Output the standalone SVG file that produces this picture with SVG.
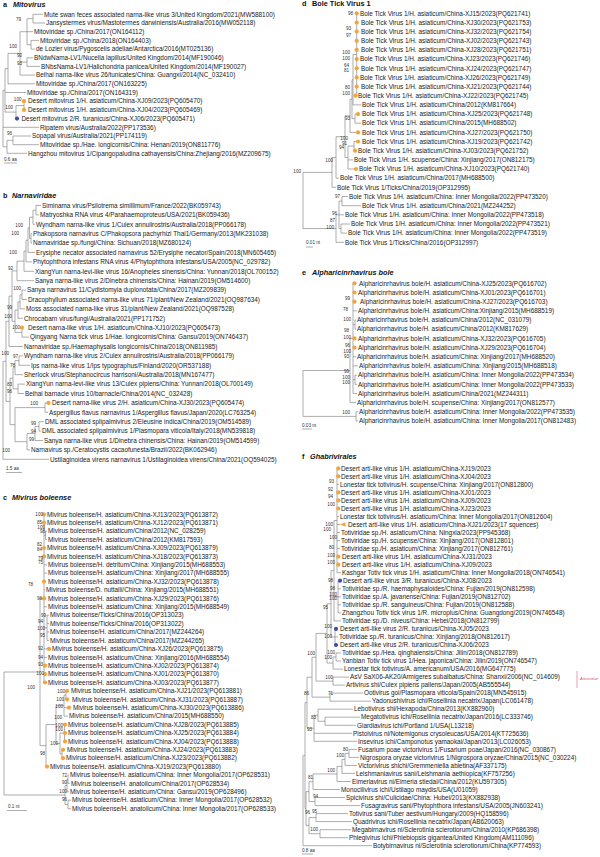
<svg xmlns="http://www.w3.org/2000/svg" width="600" height="857" viewBox="0 0 600 857">
<style>
text{font-family:"Liberation Sans",Arial,sans-serif}
.t{font-size:6.4px;fill:#1a1a1a}
.bs{font-size:4.6px;fill:#333;text-anchor:end}
.h{font-size:7.3px;font-weight:bold;font-style:italic;fill:#111}
.hn{font-size:7.3px;font-weight:bold;fill:#111}
.l{font-size:7.3px;font-weight:bold;fill:#111}
.sc{font-size:4.6px;fill:#333}
.br{fill:none;stroke:#777;stroke-width:0.6}
.o{fill:#F3A43B}
.b{fill:#3D4FA8}
</style>
<rect width="600" height="857" fill="#fff"/>
<g id="connectors">
<path class="br" d="M3 90.35V146.8M3 90.35H5M5 68.6V112.1M5 68.6H8M8 53.4V83.8M8 53.4H20M20 31.7V75.1M20 31.7H27M27 18.65V44.75M27 18.65H33M33 14.3V23M33 14.3H43M33 23H45M27 31.7H33M27 44.75H31M31 40.4V49.1M31 40.4H39M31 49.1H35M20 62.1H27M27 57.8V66.4M27 57.8H33M27 66.4H40M20 75.1H35M8 83.8H35M5 92.5H26M5 112.1H16M16 105.55V118.6M16 105.55H24M24 101.2V109.9M16 118.6H17M3 127.3H39M3 146.8H7M7 140.35V153.3M7 140.35H13M13 136V144.7M13 136H31M13 144.7H39M7 153.3H27"/>
<path class="br" d="M3 361.35V459.3M3 361.35H6M3 459.3H49M6 321.3V401.4M6 321.3H9M6 401.4H10M9 296.1V346.5M9 296.1H12M9 346.5H23M12 270.9V321.25M12 270.9H17M12 321.25H15M17 261.15V280.7M17 261.15H24M17 280.7H34M24 251V271.3M24 251H26M24 271.3H34M26 240.15V261.9M26 240.15H28M26 261.9H32M28 227.8V252.5M28 227.8H29.5M28 252.5H35M29.5 217.25V238.4M29.5 217.25H33M29.5 238.4H31M33 210.2V224.3M33 210.2H36M33 224.3H35M36 205.5V214.9M36 205.5H41M36 214.9H39M31 233.7V243.1M31 233.7H32M31 243.1H32M15 310.1V332.4M15 310.1H18M15 332.4H22M18 301.85V318.3M18 301.85H20M18 318.3H23M20 294.8V308.9M20 294.8H22M20 308.9H25M22 290.1V299.5M22 290.1H26M22 299.5H27M22 327.7V337.1M22 337.1H29M10 378.2V424.65M10 378.2H13M10 424.65H15M13 367.65V388.8M13 367.65H15M13 388.8H18M15 360.6V374.7M15 360.6H19M15 374.7H23M19 355.9V365.3M19 355.9H23M19 365.3H30M18 384.1V393.5M18 384.1H25M18 393.5H24M15 407.6V441.7M15 407.6H45M15 441.7H27M45 402.9V412.3M45 402.9H48.5M45 412.3H48M27 433.45V449.9M27 433.45H35M27 449.9H30M35 426.4V440.5M35 426.4H39M35 440.5H43M39 421.7V431.1M39 421.7H44M39 431.1H41"/>
<path class="br" d="M4 672V795M4 672H40M4 795H65M40 598.4V745.6M40 598.4H44M40 745.6H46M44 514.3V682.5M44 535.3H45.5M45.5 531.1V539.5M45.5 531.1H47M45.5 539.5H47M44 564.8H47M44 573.2H47M44 590H45M44 606.8H47M44 627.85H47M47 615.2V640.5M47 615.2H49M47 623.6H49M47 632H49M47 640.5H49M44 648.9H49M44 657.3H47M44 665.7H45M44 674.1H45M44 682.5H45M46 724.55V766.6M46 724.55H56M46 766.6H47M56 705.6V743.5M56 705.6H64M56 743.5H60M64 695.1V716.1M64 695.1H66M64 707.7H69M64 716.1H68M66 690.9V699.3M66 690.9H67M66 699.3H67M60 733V754M60 733H64.5M60 754H62M64.5 724.6V741.4M62 749.8V758.2M62 749.8H63M62 758.2H63M65 785.5V804.45M65 785.5H67M65 804.45H68M67 779.2V791.8M67 779.2H68M67 791.8H69M68 775V783.4M68 775H69M68 783.4H70M68 800.2V808.7M68 800.2H71M68 808.7H71"/>
<path class="br" d="M303 172.4V228.55M303 172.4H332M303 228.55H336M332 157.45V187.3M332 157.45H336M332 187.3H336M336 136.7V178.2M336 136.7H345M336 178.2H339M345 115.8V157.55M345 115.8H350M345 157.55H348M350 99.2V132.4M350 99.2H352M350 132.4H358M352 79.7V118.65M352 79.7H353M352 118.65H355M353 54.5V104.9M353 54.5H356.7M353 104.9H361M356.7 13.3V95.7M355 114.1V123.2M355 114.1H358M355 123.2H361M348 146.1V169M348 146.1H354M348 159.9H353M348 169H356M354 141.5V150.7M354 141.5H358M354 150.7H355M336 214.8V242.3M336 214.8H339M336 242.3H344M339 201.1V228.55M339 201.1H342M339 214.8H344M339 228.55H341M342 196.5V205.7M342 196.5H348M342 205.7H361M341 224V233.1M341 224H350M341 233.1H347"/>
<path class="br" d="M303 370.5V416.4M303 370.5H350M303 416.4H356M350 338.4V402.6M350 338.4H353M350 402.6H356M353 283.3V393.5M353 310.8H357M353 324.6H355M355 320V329.2M355 320H356M355 329.2H356M353 356.7H356M353 365.9H358M353 379.7H355M355 375.1V384.3M355 375.1H357M355 384.3H357M353 393.5H357M356 411.8V421M356 411.8H358M356 421H358"/>
<path class="br" d="M303 755.65V845.7M303 755.65H305M303 845.7H372M305 702.7V808.6M305 702.7H307M305 808.6H306M307 677.2V728.25M307 677.2H312M307 728.25H314M312 657.25V697.15M312 657.25H316M312 697.15H330M316 633.4V681.1M316 633.4H327M316 681.1H333M327 603.8V663.05M327 603.8H331M327 663.05H333M331 570.7V636.95M331 570.7H334M331 636.95H335M334 520.5V620.9M334 520.5H337M334 596.75H338M334 620.9H341M337 468.3V572.7M337 484.4H339M337 516.5H339M337 524.5H340M337 532.5H340M337 540.6H340M337 548.6H340M337 572.7H341M338 580.7V612.8M338 580.7H340M338 588.8H341M338 596.8H341M338 604.8H341M338 612.8H341M335 628.9V645M335 628.9H336M335 636.9H338M335 645H336M333 657V669.1M333 657H336M333 669.1H343M336 653V661M336 653H341M336 661H341M333 677.1V685.1M333 677.1H349M333 685.1H345M330 693.1V701.2M330 693.1H363M330 701.2H371M314 715.2V741.3M314 715.2H318M314 733.3H352M314 741.3H357M318 709.2V721.25M318 709.2H353M318 721.25H325M325 717.2V725.3M325 717.2H360M325 725.3H356M306 791.6V825.65M306 791.6H309M306 825.65H309M309 781.7V801.55M309 781.7H313M309 801.55H315M313 773.95V789.5M313 773.95H337M313 789.5H340M337 766.4V781.5M337 766.4H342M337 781.5H351M342 759.4V773.4M342 759.4H345M342 773.4H355M345 753.4V765.4M345 753.4H349M345 765.4H357M349 749.4V757.4M349 749.4H357M349 757.4H359M315 797.5V805.6M315 797.5H345M315 805.6H360M309 817.6V833.7M309 817.6H316M309 833.7H320M316 813.6V821.6M316 813.6H348M316 821.6H352M320 829.7V837.7M320 829.7H351M320 837.7H348"/>
<path class="br" d="M4 163H17M6 472.5H22M7 810.5H27M306 247H313M302 429H312M302 854H313"/>
<path d="M577 671V688" stroke="#E2728F" stroke-width="0.7" fill="none"/>
</g>
<g id="titles">
<text class="l" x="3" y="6.8">a</text><text class="h" x="13" y="6.8">Mitovirus</text>
<text class="l" x="3" y="197.6">b</text><text class="h" x="12" y="197.6">Narnaviridae</text>
<text class="l" x="3" y="500.3">c</text><text class="h" x="12" y="500.3">Mivirus boleense</text>
<text class="l" x="302" y="6">d</text><text class="hn" x="312" y="6">Bole Tick Virus 1</text>
<text class="l" x="302" y="274.9">e</text><text class="h" x="312" y="274.9">Alpharicinrhavirus bole</text>
<text class="l" x="302" y="458.6">f</text><text class="h" x="310" y="458.6">Ghabrivirales</text>
<text class="sc" x="4" y="160.5">0.6 aa</text>
<text class="sc" x="6" y="469.5">1.5 aa</text>
<text class="sc" x="8" y="807.5">0.1 nt</text>
<text class="sc" x="306" y="244">0.01 nt</text>
<text class="sc" x="302" y="426.5">0.03 nt</text>
<text class="sc" x="302" y="851.5">0.8 aa</text>
<text x="580" y="679.5" style="font-size:4.1px;font-style:italic;fill:#D9507A">Artiviridae</text>
</g>
<g id="panel-a">
<g id="a0"><text class="t" x="44" y="16.5">Mute swan feces associated narna-like virus 3/United Kingdom/2021(MW588100)</text></g>
<g id="a1"><text class="t" x="46" y="25.2">Jansystermes virus/Mastotermes darwiniensis/Australia/2016(MW052118)</text></g>
<g id="a2"><text class="t" x="34" y="33.9">Mitoviridae sp./China/2017(ON164112)</text></g>
<g id="a3"><text class="t" x="40" y="42.6">Mitoviridae sp./China/2018(ON164403)</text></g>
<g id="a4"><text class="t" x="36" y="51.3">de Lozier virus/Pygoscelis adeliae/Antarctica/2016(MT025136)</text></g>
<g id="a5"><text class="t" x="34" y="60">BNdwNama-LV1/Nucella lapillus/United Kingdom/2014(MF190046)</text></g>
<g id="a6"><text class="t" x="41" y="68.6">BNbsNama-LV1/Halichondria panicea/United Kingdom/2014(MF190027)</text></g>
<g id="a7"><text class="t" x="36" y="77.3">Beihai narna-like virus 26/tunicates/China: Guangxi/2014(NC_032410)</text></g>
<g id="a8"><text class="t" x="36" y="86">Mitoviridae sp./China/2017(ON163225)</text></g>
<g id="a9"><text class="t" x="27" y="94.7">Mitoviridae sp./China/2017(ON164319)</text></g>
<g id="a10"><circle class="o" cx="24" cy="101.2" r="2.1"/><text class="t" x="28" y="103.4">Desert mitovirus 1/H. asiaticum/China-XJ09/2023(PQ605470)</text></g>
<g id="a11"><circle class="o" cx="24" cy="109.9" r="2.1"/><text class="t" x="28" y="112.1">Desert mitovirus 1/H. asiaticum/China-XJ04/2023(PQ605469)</text></g>
<g id="a12"><circle class="b" cx="17" cy="118.6" r="2.1"/><text class="t" x="21.5" y="120.8">Desert mitovirus 2/R. turanicus/China-XJ06/2023(PQ605471)</text></g>
<g id="a13"><text class="t" x="40" y="129.5">Ripatem virus/Australia/2022(PP173536)</text></g>
<g id="a14"><text class="t" x="32" y="138.2">Sopapal virus/Australia/2021(PP174119)</text></g>
<g id="a15"><text class="t" x="40" y="146.9">Mitoviridae sp./Hae. longicornis/China: Henan/2019(ON811776)</text></g>
<g id="a16"><text class="t" x="28" y="155.5">Hangzhou mitovirus 1/Cipangopaludina cathayensis/China:Zhejiang/2016(MZ209675)</text></g>
</g>
<g id="panel-b">
<g id="b0"><text class="t" x="42" y="207.7">Siminama virus/Psilotrema simillimum/France/2022(BK059743)</text></g>
<g id="b1"><text class="t" x="40" y="217.1">Matryoshka RNA virus 4/Parahaemoproteus/USA/2021(BK059436)</text></g>
<g id="b2"><text class="t" x="36" y="226.5">Wyndham narna-like virus 1/Culex annulirostris/Australia/2018(PP066178)</text></g>
<g id="b3"><text class="t" x="33" y="235.9">Phakopsora narnavirus C/Phakopsora pachyrhizi Thai1/Germany/2013(MK231038)</text></g>
<g id="b4"><text class="t" x="33" y="245.3">Narnaviridae sp./fungi/China: Sichuan/2018(MZ680124)</text></g>
<g id="b5"><text class="t" x="36" y="254.7">Erysiphe necator associated narnavirus 52/Erysiphe necator/Spain/2018(MN605465)</text></g>
<g id="b6"><text class="t" x="33" y="264.1">Phytophthora infestans RNA virus 4/Phytophthora infestans/USA/2005(NC_029782)</text></g>
<g id="b7"><text class="t" x="35" y="273.5">XiangYun narna-levi-like virus 16/Anopheles sinensis/China: Yunnan/2018(OL700152)</text></g>
<g id="b8"><text class="t" x="35" y="282.9">Sanya narna-like virus 2/Dinebra chinensis/China: Hainan/2019(OM514600)</text></g>
<g id="b9"><text class="t" x="27" y="292.3">Sanya narnavirus 11/Cydistomyia duplonotata/China/2017(MZ209839)</text></g>
<g id="b10"><text class="t" x="28" y="301.7">Dracophyllum associated narna-like virus 71/plant/New Zealand/2021(OQ987634)</text></g>
<g id="b11"><text class="t" x="26" y="311.1">Moss associated narna-like virus 31/plant/New Zealand/2021(OQ987528)</text></g>
<g id="b12"><text class="t" x="24" y="320.5">Chrocabarn virus/fungi/Australia/2021(PP171752)</text></g>
<g id="b13"><circle class="o" cx="22" cy="327.7" r="2.1"/><text class="t" x="28" y="329.9">Desert narna-like virus 1/H. asiaticum/China-XJ10/2023(PQ605473)</text></g>
<g id="b14"><text class="t" x="30" y="339.3">Qingyang Narna tick virus 1/Hae. longicornis/China: Gansu/2019(ON746437)</text></g>
<g id="b15"><text class="t" x="24" y="348.7">Narnaviridae sp./Haemaphysalis longicornis/China/2018(ON811985)</text></g>
<g id="b16"><text class="t" x="24" y="358.1">Wyndham narna-like virus 2/Culex annulirostris/Australia/2018(PP066179)</text></g>
<g id="b17"><text class="t" x="31" y="367.5">Ips narna-like virus 1/Ips typographus/Finland/2020(OR537188)</text></g>
<g id="b18"><text class="t" x="24" y="376.9">Sherlock virus/Stephanocircus harrisoni/Australia/2018(MN167477)</text></g>
<g id="b19"><text class="t" x="26" y="386.3">XiangYun narna-levi-like virus 13/Culex pipiens/China: Yunnan/2018(OL700149)</text></g>
<g id="b20"><text class="t" x="25" y="395.7">Beihai barnacle virus 10/barnacle/China/2014(NC_032428)</text></g>
<g id="b21"><circle class="o" cx="48.5" cy="402.9" r="2.1"/><text class="t" x="52" y="405.1">Desert narna-like virus 2/H. asiaticum/China-XJ30/2023(PQ605474)</text></g>
<g id="b22"><text class="t" x="49" y="414.5">Aspergillus flavus narnavirus 1/Aspergillus flavus/Japan/2020(LC763254)</text></g>
<g id="b23"><text class="t" x="45" y="423.9">DML associated splipalmivirus 2/Eleusine indica/China/2019(OM514589)</text></g>
<g id="b24"><text class="t" x="42" y="433.3">DML associated splipalmivirus 1/Plasmopara viticola/Italy/2018(MN539818)</text></g>
<g id="b25"><text class="t" x="44" y="442.7">Sanya narna-like virus 1/Dinebra chinensis/China: Hainan/2019(OM514599)</text></g>
<g id="b26"><text class="t" x="31" y="452.1">Narnavirus sp./Ceratocystis cacaofunesta/Brazil/2022(BK062946)</text></g>
<g id="b27"><text class="t" x="50" y="461.5">Ustilaginoidea virens narnavirus 1/Ustilaginoidea virens/China/2021(OQ594025)</text></g>
</g>
<g id="panel-c">
<g id="c0"><circle class="o" cx="44" cy="514.3" r="2.1"/><text class="t" x="47" y="516.5">Mivirus boleense/H. asiaticum/China-XJ13/2023(PQ613872)</text></g>
<g id="c1"><circle class="o" cx="44" cy="522.7" r="2.1"/><text class="t" x="47" y="524.9">Mivirus boleense/H. asiaticum/China-XJ12/2023(PQ613871)</text></g>
<g id="c2"><text class="t" x="48" y="533.3">Mivirus boleense/H. asiaticum/China/2012(NC_028259)</text></g>
<g id="c3"><text class="t" x="48" y="541.7">Mivirus boleense/H. asiaticum/China/2012(KM817593)</text></g>
<g id="c4"><circle class="o" cx="44" cy="548" r="2.1"/><text class="t" x="47" y="550.2">Mivirus boleense/H. asiaticum/China-XJ09/2023(PQ613879)</text></g>
<g id="c5"><circle class="o" cx="44" cy="556.4" r="2.1"/><text class="t" x="47" y="558.6">Mivirus boleense/H. asiaticum/China-XJ18/2023(PQ613873)</text></g>
<g id="c6"><text class="t" x="48" y="567">Mivirus boleense/H. detritum/China: Xinjiang/2015(MH688553)</text></g>
<g id="c7"><text class="t" x="48" y="575.4">Mivirus boleense/H. asiaticum/China: Xinjiang/2017(MH688555)</text></g>
<g id="c8"><circle class="o" cx="44" cy="581.6" r="2.1"/><text class="t" x="48" y="583.8">Mivirus boleense/H. asiaticum/China-XJ32/2023(PQ613878)</text></g>
<g id="c9"><text class="t" x="46" y="592.2">Mivirus boleense/D. nuttalli/China: Xinjiang/2015(MH688551)</text></g>
<g id="c10"><circle class="o" cx="44" cy="598.4" r="2.1"/><text class="t" x="48" y="600.6">Mivirus boleense/H. asiaticum/China-XJ29/2023(PQ613876)</text></g>
<g id="c11"><text class="t" x="48" y="609">Mivirus boleense/H. asiaticum/China: Xinjiang/2015(MH688549)</text></g>
<g id="c12"><text class="t" x="50" y="617.4">Mivirus boleense/Ticks/China/2016(OP313023)</text></g>
<g id="c13"><text class="t" x="50" y="625.8">Mivirus boleense/Ticks/China/2016(OP313022)</text></g>
<g id="c14"><text class="t" x="50" y="634.2">Mivirus boleense/H. asiaticum/China/2017(MZ244264)</text></g>
<g id="c15"><text class="t" x="50" y="642.7">Mivirus boleense/H. asiaticum/China/2017(MZ244265)</text></g>
<g id="c16"><circle class="o" cx="49" cy="648.9" r="2.1"/><text class="t" x="52" y="651.1">Mivirus boleense/H. asiaticum/China-XJ26/2023(PQ613875)</text></g>
<g id="c17"><text class="t" x="48" y="659.5">Mivirus boleense/H. asiaticum/China: Xinjiang/2016(MH688554)</text></g>
<g id="c18"><circle class="o" cx="45" cy="665.7" r="2.1"/><text class="t" x="48" y="667.9">Mivirus boleense/H. asiaticum/China-XJ02/2023(PQ613874)</text></g>
<g id="c19"><circle class="o" cx="45" cy="674.1" r="2.1"/><text class="t" x="48" y="676.3">Mivirus boleense/H. asiaticum/China-XJ01/2023(PQ613870)</text></g>
<g id="c20"><circle class="o" cx="45" cy="682.5" r="2.1"/><text class="t" x="48" y="684.7">Mivirus boleense/H. asiaticum/China-XJ03/2023(PQ613877)</text></g>
<g id="c21"><circle class="o" cx="67" cy="690.9" r="2.1"/><text class="t" x="71" y="693.1">Mivirus boleense/H. asiaticum/China-XJ21/2023(PQ613881)</text></g>
<g id="c22"><circle class="o" cx="67" cy="699.3" r="2.1"/><text class="t" x="72" y="701.5">Mivirus boleense/H. asiaticum/China-XJ31/2023(PQ613887)</text></g>
<g id="c23"><circle class="o" cx="69" cy="707.7" r="2.1"/><text class="t" x="73" y="709.9">Mivirus boleense/H. asiaticum/China-XJ30/2023(PQ613886)</text></g>
<g id="c24"><text class="t" x="69" y="718.3">Mivirus boleense/H. asiaticum/China/2015(MH688550)</text></g>
<g id="c25"><circle class="o" cx="65" cy="724.6" r="2.1"/><text class="t" x="68" y="726.8">Mivirus boleense/H. asiaticum/China-XJ28/2023(PQ613885)</text></g>
<g id="c26"><circle class="o" cx="65" cy="733" r="2.1"/><text class="t" x="68" y="735.2">Mivirus boleense/H. asiaticum/China-XJ25/2023(PQ613884)</text></g>
<g id="c27"><circle class="o" cx="65" cy="741.4" r="2.1"/><text class="t" x="68" y="743.6">Mivirus boleense/H. asiaticum/China-XJ04/2023(PQ613888)</text></g>
<g id="c28"><circle class="o" cx="63" cy="749.8" r="2.1"/><text class="t" x="67" y="752">Mivirus boleense/H. asiaticum/China-XJ24/2023(PQ613883)</text></g>
<g id="c29"><circle class="o" cx="63" cy="758.2" r="2.1"/><text class="t" x="66" y="760.4">Mivirus boleense/H. asiaticum/China-XJ23/2023(PQ613882)</text></g>
<g id="c30"><circle class="o" cx="47" cy="766.6" r="2.1"/><text class="t" x="50" y="768.8">Mivirus boleense/H. asiaticum/China-XJ19/2023(PQ613880)</text></g>
<g id="c31"><text class="t" x="70" y="777.2">Mivirus boleense/H. asiaticum/China: Inner Mongolia/2017(OP628531)</text></g>
<g id="c32"><text class="t" x="71" y="785.6">Mivirus boleense/H. anatolicum/China/2017(OP628534)</text></g>
<g id="c33"><text class="t" x="70" y="794">Mivirus boleense/H. asiaticum/China: Gansu/2019(OP628496)</text></g>
<g id="c34"><text class="t" x="72" y="802.4">Mivirus boleense/H. asiaticum/China: Inner Mongolia/2017(OP628532)</text></g>
<g id="c35"><text class="t" x="72" y="810.9">Mivirus boleense/H. anatolicum/China: Inner Mongolia/2017(OP628533)</text></g>
</g>
<g id="panel-d">
<g id="d0"><circle class="o" cx="356.7" cy="13.3" r="2.1"/><text class="t" x="360" y="15.5">Bole Tick Virus 1/H. asiaticum/China-XJ15/2023(PQ621741)</text></g>
<g id="d1"><circle class="o" cx="356.7" cy="22.5" r="2.1"/><text class="t" x="361" y="24.7">Bole Tick Virus 1/H. asiaticum/China-XJ30/2023(PQ621753)</text></g>
<g id="d2"><circle class="o" cx="356.7" cy="31.6" r="2.1"/><text class="t" x="361" y="33.8">Bole Tick Virus 1/H. asiaticum/China-XJ32/2023(PQ621754)</text></g>
<g id="d3"><circle class="o" cx="356.7" cy="40.8" r="2.1"/><text class="t" x="361" y="43">Bole Tick Virus 1/H. asiaticum/China-XJ02/2023(PQ621743)</text></g>
<g id="d4"><circle class="o" cx="356.7" cy="49.9" r="2.1"/><text class="t" x="361" y="52.1">Bole Tick Virus 1/H. asiaticum/China-XJ28/2023(PQ621751)</text></g>
<g id="d5"><circle class="o" cx="356.7" cy="59.1" r="2.1"/><text class="t" x="360" y="61.3">Bole Tick Virus 1/H. asiaticum/China-XJ23/2023(PQ621746)</text></g>
<g id="d6"><circle class="o" cx="356.7" cy="68.3" r="2.1"/><text class="t" x="361" y="70.5">Bole Tick Virus 1/H. asiaticum/China-XJ24/2023(PQ621747)</text></g>
<g id="d7"><circle class="o" cx="356.7" cy="77.4" r="2.1"/><text class="t" x="360" y="79.6">Bole Tick Virus 1/H. asiaticum/China-XJ26/2023(PQ621749)</text></g>
<g id="d8"><circle class="o" cx="356.7" cy="86.6" r="2.1"/><text class="t" x="361" y="88.8">Bole Tick Virus 1/H. asiaticum/China-XJ21/2023(PQ621744)</text></g>
<g id="d9"><circle class="o" cx="355.5" cy="95.7" r="2.1"/><text class="t" x="358" y="97.9">Bole Tick Virus 1/H. asiaticum/China-XJ22/2023(PQ621745)</text></g>
<g id="d10"><text class="t" x="362" y="107.1">Bole Tick Virus 1/H. asiaticum/China/2012(KM817664)</text></g>
<g id="d11"><circle class="o" cx="358" cy="114.1" r="2.1"/><text class="t" x="362" y="116.3">Bole Tick Virus 1/H. asiaticum/China-XJ25/2023(PQ621748)</text></g>
<g id="d12"><text class="t" x="362" y="125.4">Bole Tick Virus 1/H. asiaticum/China/2015(MH688502)</text></g>
<g id="d13"><circle class="o" cx="358" cy="132.4" r="2.1"/><text class="t" x="362" y="134.6">Bole Tick Virus 1/H. asiaticum/China-XJ27/2023(PQ621750)</text></g>
<g id="d14"><circle class="o" cx="358" cy="141.5" r="2.1"/><text class="t" x="362" y="143.7">Bole Tick Virus 1/H. asiaticum/China-XJ19/2023(PQ621742)</text></g>
<g id="d15"><circle class="o" cx="355" cy="150.7" r="2.1"/><text class="t" x="358" y="152.9">Bole Tick Virus 1/H. asiaticum/China-XJ03/2023(PQ621752)</text></g>
<g id="d16"><text class="t" x="354" y="162.1">Bole Tick Virus 1/H. scupense/China: Xinjiang/2017(ON812175)</text></g>
<g id="d17"><circle class="o" cx="356" cy="169" r="2.1"/><text class="t" x="359" y="171.2">Bole Tick Virus 1/H. asiaticum/China-XJ10/2023(PQ621740)</text></g>
<g id="d18"><text class="t" x="340" y="180.4">Bole Tick Virus 1/H. asiaticum/China/2017(MH688500)</text></g>
<g id="d19"><text class="t" x="337" y="189.5">Bole Tick Virus 1/Ticks/China/2019(OP312995)</text></g>
<g id="d20"><text class="t" x="349" y="198.7">Bole Tick Virus 1/H. asiaticum/China: Inner Mongolia/2022(PP473520)</text></g>
<g id="d21"><text class="t" x="362" y="207.9">Bole Tick Virus 1/H. asiaticum/China/2021(MZ244252)</text></g>
<g id="d22"><text class="t" x="345" y="217">Bole Tick Virus 1/H. asiaticum/China: Inner Mongolia/2022(PP473518)</text></g>
<g id="d23"><text class="t" x="351" y="226.2">Bole Tick Virus 1/H. asiaticum/China: Inner Mongolia/2022(PP473521)</text></g>
<g id="d24"><text class="t" x="348" y="235.3">Bole Tick Virus 1/H. asiaticum/China: Inner Mongolia/2022(PP473519)</text></g>
<g id="d25"><text class="t" x="345" y="244.5">Bole Tick Virus 1/Ticks/China/2016(OP312997)</text></g>
</g>
<g id="panel-e">
<g id="e0"><circle class="o" cx="354.5" cy="283.3" r="2.1"/><text class="t" x="359" y="285.5">Alpharicinrhavirus bole/H. asiaticum/China-XJ25/2023(PQ616702)</text></g>
<g id="e1"><circle class="o" cx="354.5" cy="292.5" r="2.1"/><text class="t" x="358" y="294.7">Alpharicinrhavirus bole/H. asiaticum/China-XJ01/2023(PQ616701)</text></g>
<g id="e2"><circle class="o" cx="354.5" cy="301.7" r="2.1"/><text class="t" x="360" y="303.9">Alpharicinrhavirus bole/H. asiaticum/China-XJ27/2023(PQ616703)</text></g>
<g id="e3"><text class="t" x="358" y="313">Alpharicinrhavirus bole/H. asiaticum/China:Xinjiang/2015(MH688519)</text></g>
<g id="e4"><text class="t" x="357" y="322.2">Alpharicinrhavirus bole/H. asiaticum/China/2012(NC_031079)</text></g>
<g id="e5"><text class="t" x="357" y="331.4">Alpharicinrhavirus bole/H. asiaticum/China/2012(KM817629)</text></g>
<g id="e6"><circle class="o" cx="354.5" cy="338.4" r="2.1"/><text class="t" x="358" y="340.6">Alpharicinrhavirus bole/H. asiaticum/China-XJ32/2023(PQ616705)</text></g>
<g id="e7"><circle class="o" cx="354.5" cy="347.6" r="2.1"/><text class="t" x="358" y="349.8">Alpharicinrhavirus bole/H. asiaticum/China-XJ29/2023(PQ616704)</text></g>
<g id="e8"><text class="t" x="357" y="358.9">Alpharicinrhavirus bole/H. asiaticum/China: Xinjiang/2017(MH688520)</text></g>
<g id="e9"><text class="t" x="359" y="368.1">Alpharicinrhavirus bole/H. asiaticum/China: Xinjiang/2015(MH688518)</text></g>
<g id="e10"><text class="t" x="358" y="377.3">Alpharicinrhavirus bole/H. asiaticum/China: Inner Mongolia/2022(PP473534)</text></g>
<g id="e11"><text class="t" x="358" y="386.5">Alpharicinrhavirus bole/H. asiaticum/China: Inner Mongolia/2022(PP473533)</text></g>
<g id="e12"><text class="t" x="358" y="395.7">Alpharicinrhavirus bole/H. asiaticum/China/2021(MZ244311)</text></g>
<g id="e13"><text class="t" x="357" y="404.8">Alpharicinrhavirus bole/H. scupense/China: Xinjiang/2017(ON812577)</text></g>
<g id="e14"><text class="t" x="359" y="414">Alpharicinrhavirus bole/H. asiaticum/China: Inner Mongolia/2022(PP473535)</text></g>
<g id="e15"><text class="t" x="359" y="423.2">Alpharicinrhavirus bole/H. asiaticum/China: Inner Mongolia/2017(ON812483)</text></g>
</g>
<g id="panel-f">
<g id="f0"><circle class="o" cx="338.3" cy="468.3" r="2.1"/><text class="t" x="341" y="470.5">Desert arti-like virus 1/H. asiaticum/China-XJ19/2023</text></g>
<g id="f1"><circle class="o" cx="338.3" cy="476.3" r="2.1"/><text class="t" x="341" y="478.5">Desert arti-like virus 1/H. asiaticum/China-XJ04/2023</text></g>
<g id="f2"><text class="t" x="340" y="486.6">Lonestar tick totivirus/H. scupense/China: Xinjiang/2017(ON812800)</text></g>
<g id="f3"><circle class="o" cx="338.3" cy="492.4" r="2.1"/><text class="t" x="341" y="494.6">Desert arti-like virus 1/H. asiaticum/China-XJ01/2023</text></g>
<g id="f4"><circle class="o" cx="338.3" cy="500.4" r="2.1"/><text class="t" x="341" y="502.6">Desert arti-like virus 1/H. asiaticum/China-XJ09/2023</text></g>
<g id="f5"><circle class="o" cx="338.3" cy="508.5" r="2.1"/><text class="t" x="341" y="510.7">Desert arti-like virus 1/H. asiaticum/China-XJ23/2023</text></g>
<g id="f6"><text class="t" x="340" y="518.7">Lonestar tick totivirus/H. asiaticum/China: Inner Mongolia/2017(ON812604)</text></g>
<g id="f7"><polygon class="o" points="340,524.5 345.5,522.2 345.5,526.8"/><text class="t" x="348" y="526.7">Desert arti-like virus 1/H. asiaticum/China-XJ21/2023(17 squences)</text></g>
<g id="f8"><text class="t" x="341" y="534.7">Totiviridae sp./H. asiaticum/China: Ningxia/2023(PP945368)</text></g>
<g id="f9"><text class="t" x="341" y="542.8">Totiviridae sp./H. scupense/China: Xinjiang/2017(ON812801)</text></g>
<g id="f10"><text class="t" x="341" y="550.8">Totiviridae sp./H. asiaticum/China: Xinjiang/2017(ON812761)</text></g>
<g id="f11"><circle class="o" cx="338.3" cy="556.6" r="2.1"/><text class="t" x="342" y="558.8">Desert arti-like virus 1/H. asiaticum/China-XJ31/2023</text></g>
<g id="f12"><circle class="o" cx="338.3" cy="564.7" r="2.1"/><text class="t" x="342" y="566.9">Desert arti-like virus 1/H. asiaticum/China-XJ09/2023</text></g>
<g id="f13"><text class="t" x="342" y="574.9">Kashgar Totiv tick virus 1/H. asiaticum/China: Inner Mongolia/2018(ON746541)</text></g>
<g id="f14"><circle class="b" cx="340" cy="580.7" r="2.1"/><text class="t" x="343" y="582.9">Desert arti-like virus 3/R. turanicus/China-XJ08/2023</text></g>
<g id="f15"><text class="t" x="342" y="591">Totiviridae sp./R. haemaphysaloides/China: Fujian/2019(ON812598)</text></g>
<g id="f16"><text class="t" x="342" y="599">Totiviridae sp./A. javanense/China: Fujian/2019(ON812702)</text></g>
<g id="f17"><text class="t" x="342" y="607">Totiviridae sp./R. sanguineus/China: Fujian/2019(ON812588)</text></g>
<g id="f18"><text class="t" x="342" y="615">Zhangzhou Totiv tick virus 1/R. microplus/China: Guangdong/2019(ON746548)</text></g>
<g id="f19"><text class="t" x="342" y="623.1">Totiviridae sp./D. niveus/China: Hebei/2018(ON812799)</text></g>
<g id="f20"><circle class="b" cx="336" cy="628.9" r="2.1"/><text class="t" x="340" y="631.1">Desert arti-like virus 2/R. turanicus/China-XJ05/2023</text></g>
<g id="f21"><text class="t" x="339" y="639.1">Totiviridae sp./R. turanicus/China: Xinjiang/2018(ON812617)</text></g>
<g id="f22"><circle class="b" cx="336" cy="645" r="2.1"/><text class="t" x="340" y="647.2">Desert arti-like virus 2/R. turanicus/China-XJ06/2023</text></g>
<g id="f23"><text class="t" x="342" y="655.2">Totiviridae sp./Hea. qinghaiensis/China: Jilin/2018(ON812789)</text></g>
<g id="f24"><text class="t" x="342" y="663.2">Yanbian Totiv tick virus 1/Hea. japonica/China: Jilin/2019(ON746547)</text></g>
<g id="f25"><text class="t" x="344" y="671.3">Lonestar tick totivirus/A. americanum/USA/2016(MG647775)</text></g>
<g id="f26"><text class="t" x="350" y="679.3">AsV SaX06-AK20/Armigeres subalbatus/China: Shanxi/2006(NC_014609)</text></g>
<g id="f27"><text class="t" x="346" y="687.3">Artivirus shi/Culex pipiens pallens/Japan/2005(AB555544)</text></g>
<g id="f28"><text class="t" x="364" y="695.3">Ootivirus goi/Plasmopara viticola/Spain/2018(MN545915)</text></g>
<g id="f29"><text class="t" x="372" y="703.4">Yadonushivirus ichi/Rosellinia necatrix/Japan(LC061478)</text></g>
<g id="f30"><text class="t" x="354" y="711.4">Lebotivirus shi/Hexapoda/China/2013(KX882960)</text></g>
<g id="f31"><text class="t" x="361" y="719.4">Megatotivirus ichi/Rosellinia necatrix/Japan/2016(LC333746)</text></g>
<g id="f32"><text class="t" x="357" y="727.5">Giardiavirus ichi/Portland 1/USA(L13218)</text></g>
<g id="f33"><text class="t" x="353" y="735.5">Pistolvirus ni/Notemigonus crysoleucas/USA/2014(KT725636)</text></g>
<g id="f34"><text class="t" x="358" y="743.5">Insevirus ichi/Camponotus yamaokai/Japan/2013(LC026053)</text></g>
<g id="f35"><text class="t" x="358" y="751.6">Fusarium poae victorivirus 1/Fusarium poae/Japan/2016(NC_030867)</text></g>
<g id="f36"><text class="t" x="360" y="759.6">Nigrospora oryzae victorivirus 1/Nigrospora oryzae/China/2015(NC_030224)</text></g>
<g id="f37"><text class="t" x="358" y="767.6">Victorivirus shichi/Gremmeniella abietina(AF337175)</text></g>
<g id="f38"><text class="t" x="356" y="775.6">Leishmaniavirus sani/Leishmania aethiopica(KF757256)</text></g>
<g id="f39"><text class="t" x="352" y="783.7">Eimeriavirus ni/Eimeria stiedai/China/2012(KU597305)</text></g>
<g id="f40"><text class="t" x="341" y="791.7">Monocilivirus ichi/Ustilago maydis/USA(U01059)</text></g>
<g id="f41"><text class="t" x="346" y="799.7">Spicivirus shi/Culicidae/China: Hubei/2013(KX882938)</text></g>
<g id="f42"><text class="t" x="361" y="807.8">Fusagravirus sani/Phytophthora infestans/USA/2005(JN603241)</text></g>
<g id="f43"><text class="t" x="349" y="815.8">Totivirus sani/Tuber aestivum/Hungary/2009(HQ158596)</text></g>
<g id="f44"><text class="t" x="353" y="823.8">Quadrivirus ichi/Rosellinia necatrix/Japan(AB620063)</text></g>
<g id="f45"><text class="t" x="352" y="831.9">Megabirnavirus ni/Sclerotinia sclerotiorum/China/2010(KP686398)</text></g>
<g id="f46"><text class="t" x="349" y="839.9">Phlegivirus ichi/Phlebiopsis gigantea/United Kingdom(AM111096)</text></g>
<g id="f47"><text class="t" x="373" y="847.9">Botybirnavirus ni/Sclerotinia sclerotiorum/China(KP774593)</text></g>
</g>
<g id="support">
<text class="bs" x="21" y="21">79</text><text class="bs" x="17" y="48">100</text><text class="bs" x="22" y="57">90</text><text class="bs" x="22" y="64.5">93</text><text class="bs" x="21.5" y="100.5">100</text><text class="bs" x="13" y="108.5">100</text><text class="bs" x="12" y="135">96</text>
<text class="bs" x="23" y="226.5">100</text><text class="bs" x="19" y="234.5">100</text><text class="bs" x="17" y="254">100</text><text class="bs" x="13" y="269.5">92</text><text class="bs" x="21" y="290">100</text><text class="bs" x="12" y="309">99</text><text class="bs" x="12" y="318">100</text><text class="bs" x="20" y="329">100</text><text class="bs" x="9" y="355">100</text><text class="bs" x="18" y="358">97</text><text class="bs" x="15" y="367">78</text><text class="bs" x="12" y="386">83</text><text class="bs" x="12" y="393">96</text><text class="bs" x="38" y="405">100</text><text class="bs" x="36" y="425">99</text><text class="bs" x="36" y="433">94</text><text class="bs" x="34" y="441">99</text><text class="bs" x="10" y="452">100</text>
<text class="bs" x="43" y="515.5">100</text><text class="bs" x="42" y="524">85</text><text class="bs" x="45" y="529">100</text><text class="bs" x="45" y="532.8">98</text><text class="bs" x="42" y="546">82</text><text class="bs" x="42" y="551">84</text><text class="bs" x="43" y="560">79</text><text class="bs" x="43" y="564">75</text><text class="bs" x="33" y="585.5">78</text><text class="bs" x="42" y="600">96</text><text class="bs" x="46" y="617">99</text><text class="bs" x="43" y="622.5">94</text><text class="bs" x="45" y="630">100</text><text class="bs" x="45" y="636.5">95</text><text class="bs" x="43" y="650">92</text><text class="bs" x="43" y="658.5">94</text><text class="bs" x="43" y="666">93</text><text class="bs" x="44" y="674.5">100</text><text class="bs" x="35" y="689">100</text><text class="bs" x="65" y="693">100</text><text class="bs" x="64" y="701">100</text><text class="bs" x="63" y="707.5">100</text><text class="bs" x="62" y="718.5">100</text><text class="bs" x="63" y="726.5">100</text><text class="bs" x="63" y="731">100</text><text class="bs" x="58" y="745">100</text><text class="bs" x="45" y="755">98</text><text class="bs" x="67" y="776.5">72</text><text class="bs" x="67" y="784">90</text><text class="bs" x="67" y="792.5">100</text><text class="bs" x="67" y="800.5">96</text>
<text class="bs" x="353" y="15">98</text><text class="bs" x="351" y="29.5">93</text><text class="bs" x="351" y="36.5">97</text><text class="bs" x="350" y="53.5">100</text><text class="bs" x="350" y="60">100</text><text class="bs" x="349" y="66.5">64</text><text class="bs" x="349" y="71.5">81</text><text class="bs" x="350" y="88.5">80</text><text class="bs" x="350" y="94.5">100</text><text class="bs" x="350" y="119.5">93</text><text class="bs" x="348" y="140">100</text><text class="bs" x="347" y="144.5">91</text><text class="bs" x="344" y="148.5">94</text><text class="bs" x="333" y="161.5">100</text><text class="bs" x="301" y="173">100</text><text class="bs" x="340" y="197.5">97</text><text class="bs" x="337" y="214.5">96</text><text class="bs" x="335" y="222">87</text><text class="bs" x="334" y="228.5">100</text>
<text class="bs" x="350" y="299.5">99</text><text class="bs" x="348" y="311">78</text><text class="bs" x="351" y="320.5">100</text><text class="bs" x="349" y="332">98</text><text class="bs" x="351" y="338.5">100</text><text class="bs" x="350" y="346.5">96</text><text class="bs" x="351" y="353">100</text><text class="bs" x="349" y="358">93</text><text class="bs" x="349" y="373">99</text><text class="bs" x="350" y="378.5">100</text><text class="bs" x="350" y="384">100</text><text class="bs" x="350" y="413.5">100</text>
<text class="bs" x="334" y="483">93</text><text class="bs" x="333" y="490.5">92</text><text class="bs" x="333" y="497.5">94</text><text class="bs" x="335" y="505.5">100</text><text class="bs" x="333" y="526">100</text><text class="bs" x="331" y="530.5">100</text><text class="bs" x="337" y="538.5">100</text><text class="bs" x="334" y="549">80</text><text class="bs" x="335" y="557">100</text><text class="bs" x="335" y="563.5">100</text><text class="bs" x="333" y="581.5">98</text><text class="bs" x="335" y="590">98</text><text class="bs" x="337" y="596">100</text><text class="bs" x="337" y="600">100</text><text class="bs" x="328" y="608.5">95</text><text class="bs" x="332" y="627.5">100</text><text class="bs" x="332" y="637.5">100</text><text class="bs" x="315" y="654.5">100</text><text class="bs" x="335" y="654">100</text><text class="bs" x="332" y="659">100</text><text class="bs" x="333" y="678.5">100</text><text class="bs" x="309" y="695">86</text><text class="bs" x="333" y="694.5">71</text><text class="bs" x="316" y="718.5">83</text><text class="bs" x="312" y="730.5">93</text><text class="bs" x="348" y="750.5">80</text><text class="bs" x="344" y="756.5">100</text><text class="bs" x="335" y="771.5">100</text><text class="bs" x="313" y="778.5">81</text><text class="bs" x="318" y="797.5">94</text><text class="bs" x="310" y="814">96</text><text class="bs" x="317" y="813">95</text><text class="bs" x="318" y="830.5">100</text>
</g>
</svg>
